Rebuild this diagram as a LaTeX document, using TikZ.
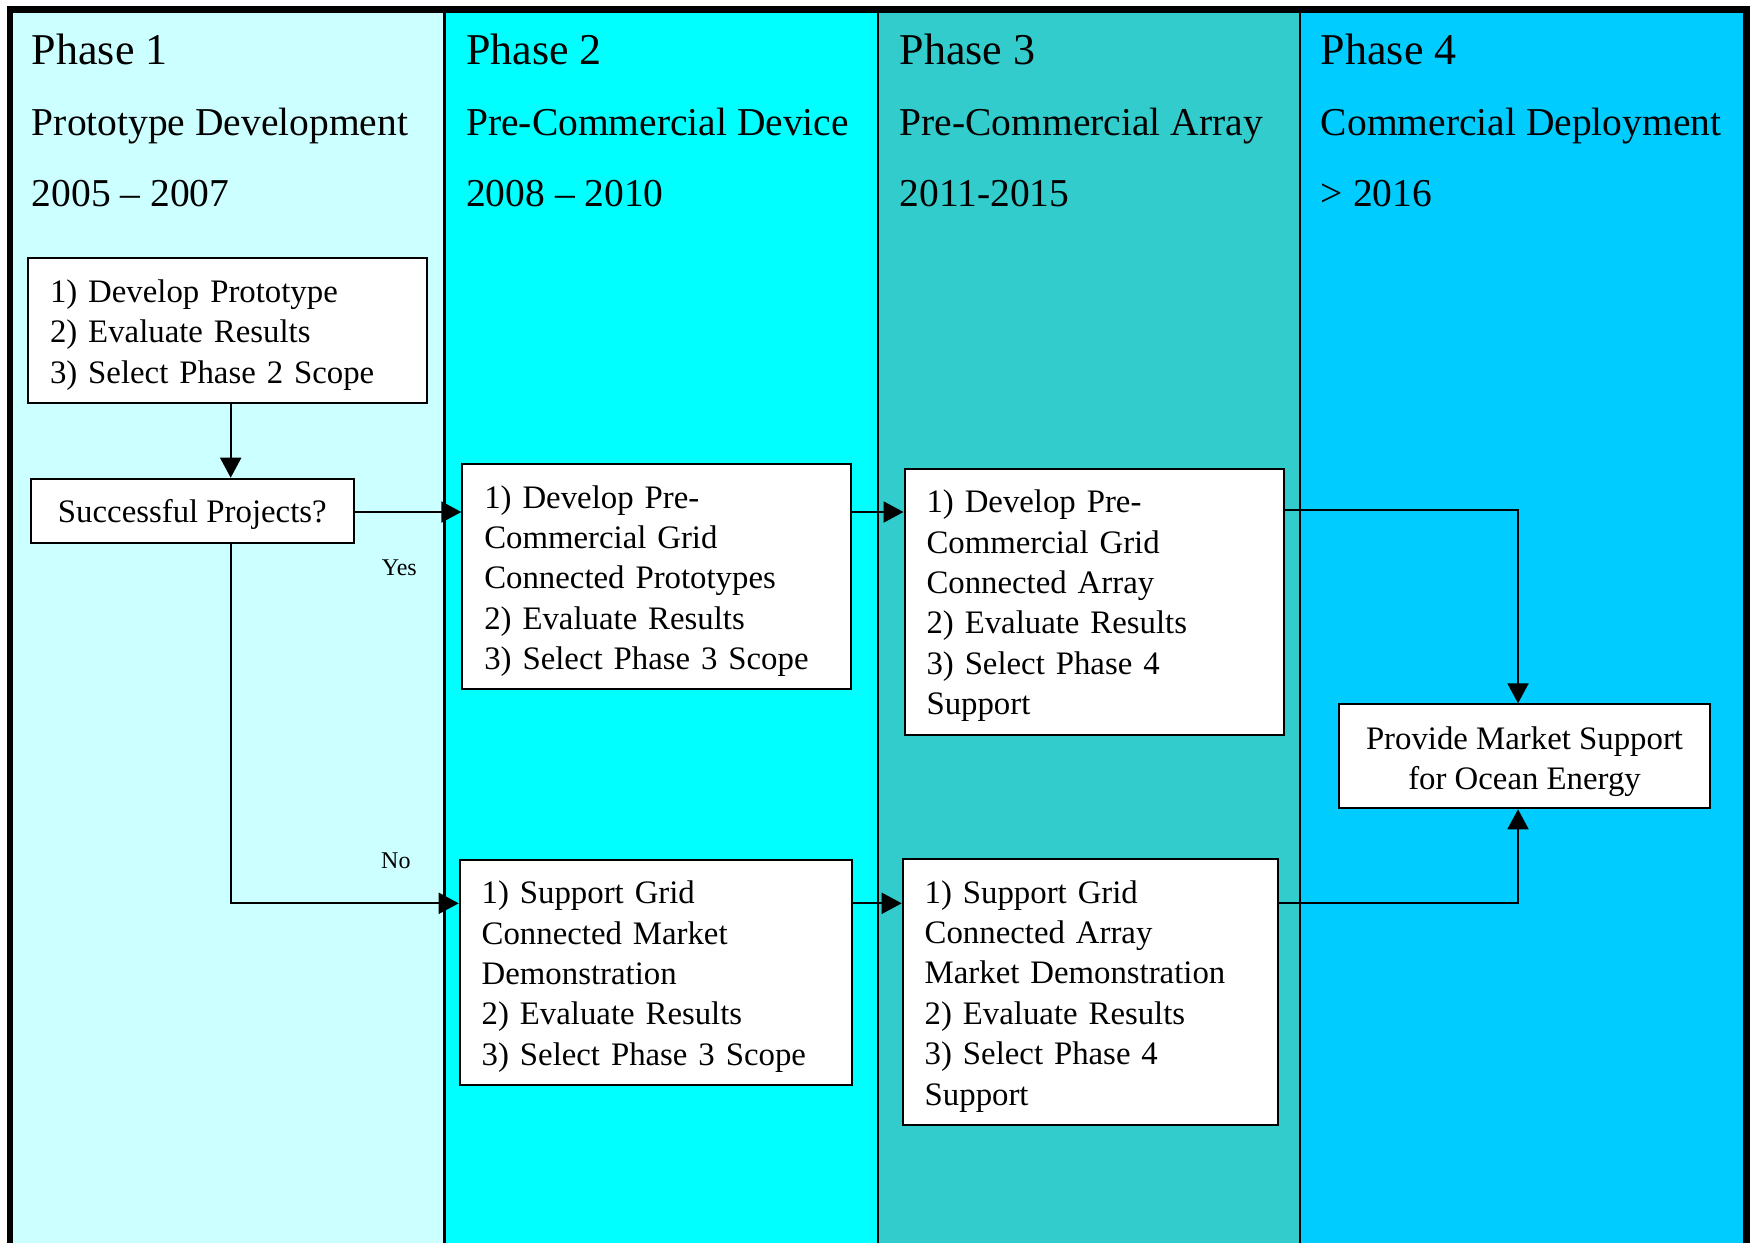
\documentclass[tikz,border=0pt]{standalone}
\usepackage{fontspec}
\setmainfont{Liberation Serif}
\usetikzlibrary{arrows.meta}
\definecolor{phaseA}{HTML}{CCFFFF}
\definecolor{phaseB}{HTML}{00FFFF}
\definecolor{phaseC}{HTML}{33CCCC}
\definecolor{phaseD}{HTML}{00CCFF}
% tall invisible strut on the first line of every box
\newcommand\boxstrut{\rule{0pt}{31pt}}
\begin{document}
\begin{tikzpicture}[x=1pt,y=-1pt,
  head/.style={anchor=base west, inner sep=0pt, font=\fontsize{44}{50}\selectfont},
  sub/.style={anchor=base west, inner sep=0pt, font=\fontsize{39.5}{46}\selectfont},
  boxbase/.style={draw, line width=2pt, fill=white, anchor=north west,
    font=\fontsize{32.8}{40.4}\selectfont, inner ysep=0pt},
  stepbox/.style={boxbase, align=left, inner xsep=22pt,
    execute at begin node=\boxstrut},
  centerbox/.style={boxbase, align=center, inner xsep=0pt},
  lbl/.style={anchor=base west, inner sep=0pt, font=\fontsize{24}{28}\selectfont},
  arr/.style={line width=2pt, -{Triangle[length=20pt,width=21pt]}},
  divider/.style={line width=2.5pt}
]
\useasboundingbox (0,0) rectangle (1752,1243);

% frame and phase columns
\fill[black] (7,6) rectangle (1750,1243);
\fill[phaseA] (13,13) rectangle (444.5,1243);
\fill[phaseB] (444.5,13) rectangle (878,1243);
\fill[phaseC] (878,13) rectangle (1300,1243);
\fill[phaseD] (1300,13) rectangle (1743,1243);
\draw[divider] (444.5,13) -- (444.5,1243);
\draw[divider] (878,13) -- (878,1243);
\draw[divider] (1300,13) -- (1300,1243);

% column headings
\node[head] (h1) at (31.7,64) {Phase 1};
\node[sub] (s1) at (31.7,135) {Prototype Development};
\node[sub] (y1) at (31.7,206.7) {2005 -- 2007};
\node[head] (h2) at (466,64) {Phase 2};
\node[sub] (s2) at (466,135) {Pre-Commercial Device};
\node[sub] (y2) at (466,206.7) {2008 -- 2010};
\node[head] (h3) at (899.5,64) {Phase 3};
\node[sub] (s3) at (899.5,135) {Pre-Commercial Array};
\node[sub] (y3) at (899.5,206.7) {2011-2015};
\node[head] (h4) at (1320.7,64) {Phase 4};
\node[sub] (s4) at (1320.7,135) {Commercial Deployment};
\node[sub] (y4) at (1320.7,206.7) {> 2016};

% steps
\node[stepbox, text width=355pt, minimum height=145pt] (proto) at (27,257.3)
  {1) Develop Prototype\\2) Evaluate Results\\3) Select Phase 2 Scope};
\node[centerbox, minimum width=322.7pt, minimum height=64pt] (dec) at (30,477.7)
  {\boxstrut Successful Projects?};
\node[stepbox, text width=345pt, minimum height=225pt] (devB) at (461.3,463.3)
  {1) Develop Pre-\\Commercial Grid\\Connected Prototypes\\2) Evaluate Results\\3) Select Phase 3 Scope};
\node[stepbox, text width=335pt, minimum height=266pt] (devC) at (903.5,467.7)
  {1) Develop Pre-\\Commercial Grid\\Connected Array\\2) Evaluate Results\\3) Select Phase 4\\Support};
\node[stepbox, text width=348pt, minimum height=225pt] (supB) at (458.7,859)
  {1) Support Grid\\Connected Market\\Demonstration\\2) Evaluate Results\\3) Select Phase 3 Scope};
\node[stepbox, text width=331pt, minimum height=266pt] (supC) at (901.7,858)
  {1) Support Grid\\Connected Array\\Market Demonstration\\2) Evaluate Results\\3) Select Phase 4\\Support};
\node[centerbox, minimum width=371pt, minimum height=104pt] (market) at (1338,703.3)
  {\rule{0pt}{33pt}Provide Market Support\\for Ocean Energy};

% branch labels
\node[lbl] (yes) at (381.7,575) {Yes};
\node[lbl] (no) at (381,868.3) {No};

% routing guides
\coordinate (trunk) at (230.7,0);
\coordinate (drop) at (1518,0);
\coordinate (yesrow) at (0,512);
\coordinate (toprow) at (0,510);
\coordinate (norow) at (0,903.3);

% connectors
\draw[arr] (proto.south -| trunk) -- (dec.north -| trunk);
\draw[arr] (dec.east |- yesrow) -- (devB.west |- yesrow);
\draw[arr] (devB.east |- yesrow) -- (devC.west |- yesrow);
\draw[arr] (devC.east |- toprow) -| (market.north -| drop);
\draw[arr] (dec.south -| trunk) |- (supB.west |- norow);
\draw[arr] (supB.east |- norow) -- (supC.west |- norow);
\draw[arr] (supC.east |- norow) -| (market.south -| drop);
\end{tikzpicture}
\end{document}
